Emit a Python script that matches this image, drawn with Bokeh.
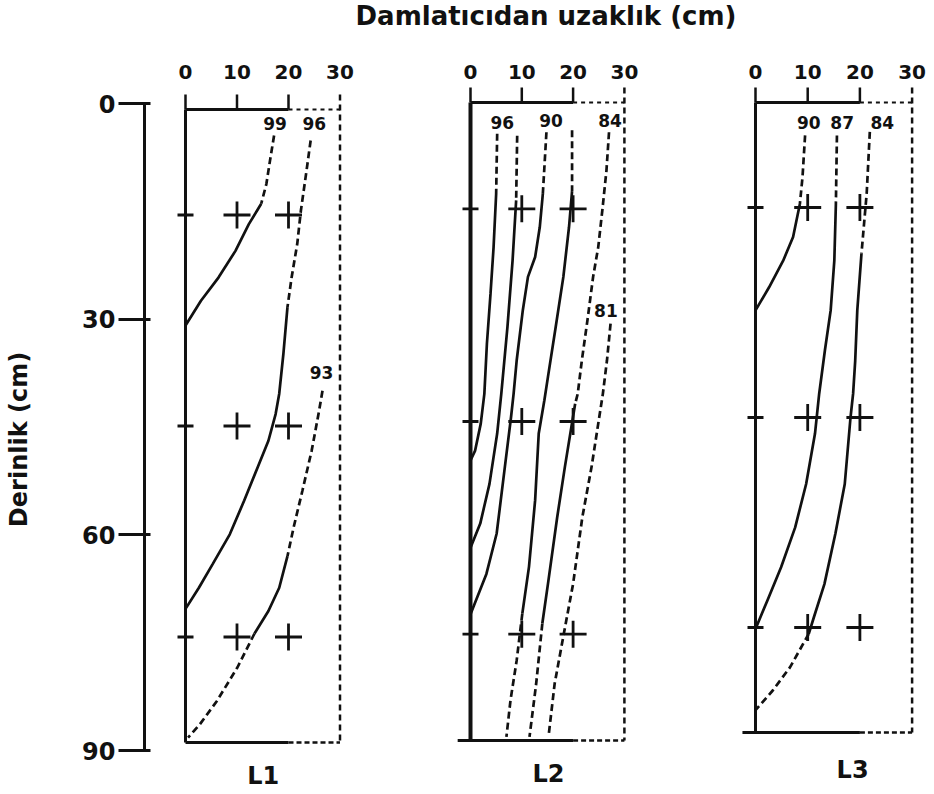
from bokeh.plotting import figure
from bokeh.layouts import row, column
from bokeh.models import Div, Range1d, FixedTicker
from bokeh.core.properties import value
from bokeh.embed import file_html
from bokeh.resources import INLINE
from bokeh.core.validation import silence
from bokeh.core.validation.warnings import MISSING_RENDERERS

silence(MISSING_RENDERERS, True)

# ---------------- data ----------------
TITLE = "Damlatıcıdan uzaklık (cm)"
Y_LABEL = "Derinlik (cm)"
DEPTH_TICKS = [0, 30, 60, 90]
X_TICKS = [0, 10, 20, 30]
PANEL_NAMES = ["L1", "L2", "L3"]

# sampling points (crosses)
SAMPLE_X = [10, 20, 10, 20, 10, 20]
SAMPLE_D = [15, 15, 45, 45, 75, 75]
EDGE_X = [0, 0, 0]
EDGE_D = [15, 45, 75]

# ---- L1 ----
L1_99_dash_x = [17.2, 16.4, 15.7, 14.7]
L1_99_dash_d = [3.7, 7.3, 10.6, 13.4]
L1_99_solid_x = [14.7, 12.3, 9.7, 6.4, 3.0, 0.0]
L1_99_solid_d = [13.4, 16.3, 20.1, 23.9, 27.2, 30.7]

L1_96_dash_x = [24.3, 23.5, 22.4, 21.7, 20.6, 19.8]
L1_96_dash_d = [4.4, 8.7, 14.4, 19.1, 23.9, 28.1]
L1_96_solid_x = [19.8, 19.0, 18.2, 17.5, 16.1, 14.0, 11.4, 8.6, 5.3, 2.6, 0.0]
L1_96_solid_d = [28.1, 34.8, 40.4, 43.3, 47.1, 50.9, 55.6, 60.4, 64.6, 68.0, 71.0]

L1_93_dash_x = [26.6, 25.9, 24.5, 22.7, 21.0, 19.8]
L1_93_dash_d = [40.0, 43.0, 48.5, 54.2, 59.4, 63.5]
L1_93_solid_x = [19.8, 18.2, 16.1, 13.4]
L1_93_solid_d = [63.5, 68.0, 71.3, 74.5]
L1_93_dash2_x = [13.4, 10.1, 6.1, 2.8, 0.5]
L1_93_dash2_d = [74.5, 79.3, 84.1, 87.4, 89.3]

L1_LABELS = ["99", "96", "93"]
L1_LABEL_X = [17.4, 25.0, 26.4]
L1_LABEL_D = [2.0, 2.0, 37.4]

# ---- L2 ----
L2_96_dash_x = [5.2, 5.0]
L2_96_dash_d = [4.4, 12.9]
L2_96_solid_x = [5.0, 4.5, 3.9, 3.2, 2.7, 2.0, 0.9, 0.0]
L2_96_solid_d = [12.9, 20.4, 27.0, 34.0, 41.1, 45.3, 49.1, 50.5]

L2_93_dash_x = [9.1, 8.9]
L2_93_dash_d = [4.7, 13.8]
L2_93_solid_x = [8.9, 8.2, 7.2, 6.0, 5.2, 3.7, 1.9, 0.0]
L2_93_solid_d = [13.8, 22.3, 31.7, 41.1, 46.7, 53.8, 59.4, 62.8]

L2_90_dash_x = [14.8, 14.1]
L2_90_dash_d = [4.2, 12.9]
L2_90_solid_x = [14.1, 13.5, 12.6, 11.2, 10.2, 9.0, 8.4, 7.9, 6.7, 5.1, 3.1, 0.0]
L2_90_solid_d = [12.9, 17.6, 21.8, 24.6, 29.3, 36.4, 41.1, 44.4, 51.4, 60.8, 66.5, 72.2]

L2_87_dash_x = [19.8, 19.8]
L2_87_dash_d = [3.9, 12.5]
L2_87_solid_x = [19.8, 19.2, 18.1, 16.6, 15.1, 14.4, 13.3, 12.6, 11.4, 10.1]
L2_87_solid_d = [12.5, 17.6, 24.6, 31.7, 38.7, 42.0, 46.7, 56.1, 65.5, 72.1]
L2_87_dash2_x = [10.1, 9.0, 7.8, 7.0]
L2_87_dash2_d = [72.1, 78.7, 84.3, 89.5]

L2_84_dash_x = [27.0, 26.5, 25.7, 24.9, 23.9, 22.8, 21.7, 20.9, 20.4]
L2_84_dash_d = [4.2, 9.6, 15.2, 20.4, 24.6, 30.7, 36.4, 41.1, 42.5]
L2_84_solid_x = [20.4, 18.4, 16.9, 15.1, 14.0]
L2_84_solid_d = [42.5, 51.4, 58.5, 67.9, 73.5]
L2_84_dash2_x = [14.0, 12.8, 11.5]
L2_84_dash2_d = [73.5, 82.0, 89.5]

L2_81_dash_x = [27.3, 26.6, 25.8, 23.6, 21.8, 20.0, 18.2, 16.4, 15.2]
L2_81_dash_d = [31.2, 36.4, 41.1, 51.4, 58.5, 67.9, 74.9, 82.0, 89.5]

L2_LABELS = ["96", "90", "84", "81"]
L2_LABEL_X = [6.2, 15.7, 27.2, 26.4]
L2_LABEL_D = [2.8, 2.5, 2.5, 29.3]

# ---- L3 ----
L3_90_dash_x = [9.5, 9.0, 8.5]
L3_90_dash_d = [4.7, 10.7, 14.5]
L3_90_solid_x = [8.5, 7.2, 5.3, 2.6, 0.0]
L3_90_solid_d = [14.5, 19.2, 22.6, 26.4, 29.7]

L3_87_dash_x = [15.6, 15.4]
L3_87_dash_d = [4.7, 14.5]
L3_87_solid_x = [15.4, 15.1, 14.4, 13.3, 12.2, 11.4, 9.7, 7.6, 4.9, 2.3, 0.0]
L3_87_solid_d = [14.5, 22.6, 29.7, 35.4, 41.6, 47.3, 54.5, 60.7, 66.4, 71.1, 75.2]

L3_84_dash_x = [21.9, 21.3, 20.3]
L3_84_dash_d = [4.2, 13.0, 21.6]
L3_84_solid_x = [20.3, 19.5, 19.1, 18.7, 18.2, 17.1, 15.3, 13.2, 11.2, 10.2]
L3_84_solid_d = [21.6, 29.7, 36.9, 41.6, 45.0, 54.5, 61.6, 68.8, 73.5, 75.9]
L3_84_dash2_x = [10.2, 6.6, 3.3, 0.0]
L3_84_dash2_d = [75.9, 80.7, 84.0, 86.8]

L3_LABELS = ["90", "87", "84"]
L3_LABEL_X = [10.2, 16.6, 24.3]
L3_LABEL_D = [2.8, 2.8, 2.8]

# ---------------- layout / style ----------------
FONT = "DejaVu Sans"
INK = "#111111"
DASH = "7 4"
TITLE_H = 30
ROW_TOP = TITLE_H
H = 762
TOPB = 56
BOTB = 0
TICK_PX = 15
CURVE_W = 2.7


def clean(p):
    p.outline_line_color = None
    p.grid.visible = False
    p.background_fill_color = "white"
    p.border_fill_color = "white"


def y_range_for(y0_px, y90_px):
    k = (y90_px - y0_px) / 90.0
    frame_top = ROW_TOP + TOPB
    frame_bot = ROW_TOP + H - BOTB
    return k, Range1d((frame_bot - y0_px) / k, (frame_top - y0_px) / k)


def make_panel(name, fig_left, width, x0_px, xscale, y0_px, y90_px, bottom_left,
               name_x, name_px, curves, labels, lab_x, lab_d):
    k, yr = y_range_for(y0_px, y90_px)
    xr = Range1d((fig_left - x0_px) / xscale, (fig_left + width - x0_px) / xscale)
    p = figure(width=width, height=H, x_range=xr, y_range=yr,
               x_axis_location="above", y_axis_location=None,
               min_border_left=0, min_border_right=0,
               min_border_top=TOPB, min_border_bottom=BOTB,
               output_backend="svg", toolbar_location=None)
    clean(p)
    ax = p.xaxis[0]
    ax.ticker = FixedTicker(ticks=X_TICKS)
    ax.axis_line_color = None
    ax.major_tick_line_color = None
    ax.minor_tick_line_color = None
    ax.major_label_standoff = 2
    ax.major_label_text_font = FONT
    ax.major_label_text_font_style = "bold"
    ax.major_label_text_font_size = "20px"
    ax.major_label_text_color = INK

    x_lo, x_hi = X_TICKS[0], X_TICKS[-1]
    x_mid = X_TICKS[2]
    d_top, d_bot = DEPTH_TICKS[0], DEPTH_TICKS[-1]
    tick_top = d_top - TICK_PX / k
    lw_frame = 3
    # ticks on top
    p.segment(x0=X_TICKS[:-1], y0=[d_top] * (len(X_TICKS) - 1),
              x1=X_TICKS[:-1], y1=[tick_top] * (len(X_TICKS) - 1),
              line_width=2.5, color=INK)
    # frame
    p.line([x_lo, x_mid], [d_top, d_top], line_width=lw_frame, color=INK)
    p.line([x_mid, x_hi], [d_top, d_top], line_width=2, color=INK, line_dash="4 4")
    p.line([x_lo, x_lo], [d_top, d_bot], line_width=lw_frame + (1 if name == "L2" else 0), color=INK)
    p.line([x_hi, x_hi], [tick_top, d_bot], line_width=2.5, color=INK, line_dash="6 4")
    p.line([bottom_left, x_mid], [d_bot, d_bot], line_width=lw_frame, color=INK)
    p.line([x_mid, x_hi], [d_bot, d_bot], line_width=2.5, color=INK, line_dash="5 3")

    for xs, ds, dashed in curves:
        if dashed:
            p.line(xs, ds, line_width=CURVE_W, color=INK, line_dash=DASH)
        else:
            p.line(xs, ds, line_width=CURVE_W, color=INK)

    p.scatter(SAMPLE_X, SAMPLE_D, marker="cross", size=27, line_width=2.8, color=INK)
    p.scatter(EDGE_X, EDGE_D, marker="dash", size=16, line_width=2.8, color=INK)

    p.text(x=lab_x, y=lab_d, text=labels, text_font=value(FONT),
           text_font_style="bold", text_font_size="17px", text_color=INK,
           text_align="center", text_baseline="middle")
    # panel name under the panel
    p.text(x=[name_x], y=[(name_px - y0_px) / k], text=[name], text_font=value(FONT),
           text_font_style="bold", text_font_size="24px", text_color=INK,
           text_align="center", text_baseline="middle")
    return p


# depth axis figure
AX_X = 141          # frame left edge (where ticks are anchored)
P0_W = 164
k0, yr0 = y_range_for(103, 750)
p0 = figure(width=P0_W, height=H, x_range=Range1d(0, P0_W - AX_X), y_range=yr0,
            x_axis_location=None, y_axis_location="left",
            min_border_left=AX_X, min_border_right=0,
            min_border_top=TOPB, min_border_bottom=BOTB,
            output_backend="svg", toolbar_location=None)
clean(p0)
ya = p0.yaxis[0]
ya.ticker = FixedTicker(ticks=DEPTH_TICKS)
ya.axis_line_color = None
ya.major_tick_line_width = 3
ya.major_tick_line_color = INK
ya.major_tick_in = 9
ya.major_tick_out = 23
ya.minor_tick_line_color = None
ya.major_label_standoff = 3
ya.major_label_text_font = FONT
ya.major_label_text_font_style = "bold"
ya.major_label_text_font_size = "24px"
ya.major_label_text_color = INK
ya.axis_label = Y_LABEL
ya.axis_label_text_font = FONT
ya.axis_label_text_font_style = "bold"
ya.axis_label_text_font_size = "24px"
ya.axis_label_text_color = INK
ya.axis_label_standoff = 46
# the depth axis line itself, from 0 to 90 cm (3 px right of the frame edge)
p0.line([3, 3], [DEPTH_TICKS[0], DEPTH_TICKS[-1]], line_width=3, color=INK)

p1 = make_panel("L1", 164, 284, 185, 5.15, 109, 742, 0, 15.1, 775,
                [(L1_99_dash_x, L1_99_dash_d, True), (L1_99_solid_x, L1_99_solid_d, False),
                 (L1_96_dash_x, L1_96_dash_d, True), (L1_96_solid_x, L1_96_solid_d, False),
                 (L1_93_dash_x, L1_93_dash_d, True), (L1_93_solid_x, L1_93_solid_d, False),
                 (L1_93_dash2_x, L1_93_dash2_d, True)],
                L1_LABELS, L1_LABEL_X, L1_LABEL_D)

p2 = make_panel("L2", 448, 288, 470, 5.13, 102, 740, -2.5, 15.2, 773,
                [(L2_96_dash_x, L2_96_dash_d, True), (L2_96_solid_x, L2_96_solid_d, False),
                 (L2_93_dash_x, L2_93_dash_d, True), (L2_93_solid_x, L2_93_solid_d, False),
                 (L2_90_dash_x, L2_90_dash_d, True), (L2_90_solid_x, L2_90_solid_d, False),
                 (L2_87_dash_x, L2_87_dash_d, True), (L2_87_solid_x, L2_87_solid_d, False),
                 (L2_87_dash2_x, L2_87_dash2_d, True),
                 (L2_84_dash_x, L2_84_dash_d, True), (L2_84_solid_x, L2_84_solid_d, False),
                 (L2_84_dash2_x, L2_84_dash2_d, True),
                 (L2_81_dash_x, L2_81_dash_d, True)],
                L2_LABELS, L2_LABEL_X, L2_LABEL_D)

p3 = make_panel("L3", 736, 198, 755, 5.22, 102, 732, -2.5, 18.6, 769,
                [(L3_90_dash_x, L3_90_dash_d, True), (L3_90_solid_x, L3_90_solid_d, False),
                 (L3_87_dash_x, L3_87_dash_d, True), (L3_87_solid_x, L3_87_solid_d, False),
                 (L3_84_dash_x, L3_84_dash_d, True), (L3_84_solid_x, L3_84_solid_d, False),
                 (L3_84_dash2_x, L3_84_dash2_d, True)],
                L3_LABELS, L3_LABEL_X, L3_LABEL_D)

title = Div(text=TITLE, width=500, height=TITLE_H, margin=(0, 0, 0, 296),
            styles={"font-family": FONT, "font-weight": "bold", "font-size": "26px",
                    "line-height": "32px", "text-align": "center", "white-space": "nowrap",
                    "color": INK})

layout = column(title, row(p0, p1, p2, p3, spacing=0), spacing=0)

with open("out.html", "w") as f:
    f.write(file_html(layout, INLINE))
